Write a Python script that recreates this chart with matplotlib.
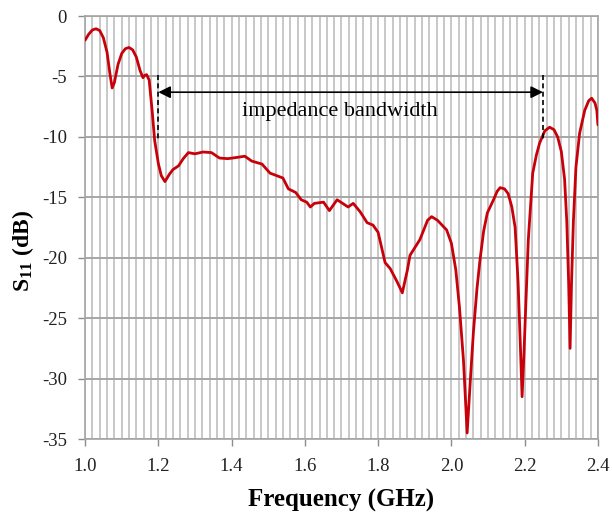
import matplotlib
matplotlib.use("Agg")
import matplotlib.pyplot as plt
from matplotlib.ticker import MultipleLocator

plt.rcParams['font.family'] = ['Liberation Serif', 'DejaVu Serif']
plt.rcParams['axes.unicode_minus'] = False
plt.rcParams['mathtext.fontset'] = 'custom'
plt.rcParams['mathtext.rm'] = 'Liberation Serif'
plt.rcParams['mathtext.bf'] = 'Liberation Serif:bold'

freq = [1.000, 1.010, 1.020, 1.030, 1.040, 1.050, 1.060, 1.068, 1.074, 1.080,
        1.090, 1.100, 1.110, 1.120, 1.130, 1.140, 1.150, 1.158, 1.163, 1.168,
        1.175, 1.183, 1.190, 1.200, 1.208, 1.218, 1.230, 1.240, 1.255, 1.268,
        1.282, 1.300, 1.322, 1.345, 1.367, 1.390, 1.414, 1.436, 1.455, 1.483,
        1.505, 1.540, 1.555, 1.575, 1.590, 1.605, 1.615, 1.626, 1.651, 1.667,
        1.688, 1.718, 1.732, 1.751, 1.770, 1.786, 1.800, 1.819, 1.833, 1.852,
        1.866, 1.880, 1.887, 1.914, 1.935, 1.946, 1.962, 1.987, 2.000, 2.012,
        2.022, 2.033, 2.043, 2.052, 2.060, 2.070, 2.078, 2.088, 2.098, 2.115,
        2.125, 2.133, 2.145, 2.155, 2.165, 2.174, 2.182, 2.188, 2.193, 2.198,
        2.203, 2.210, 2.222, 2.232, 2.241, 2.255, 2.268, 2.280, 2.290, 2.300,
        2.309, 2.315, 2.320, 2.324, 2.328, 2.333, 2.340, 2.350, 2.364, 2.375,
        2.383, 2.392, 2.397, 2.400]
s11 = [-2.0, -1.5, -1.15, -1.05, -1.2, -1.8, -3.0, -4.8, -5.95, -5.5,
       -4.0, -3.1, -2.7, -2.6, -2.8, -3.4, -4.5, -5.1, -4.9, -4.85,
       -5.3, -7.8, -10.3, -12.2, -13.2, -13.7, -13.1, -12.7, -12.4, -11.8,
       -11.3, -11.4, -11.25, -11.3, -11.75, -11.8, -11.7, -11.6, -12.0, -12.25,
       -13.0, -13.4, -14.3, -14.6, -15.2, -15.4, -15.8, -15.5, -15.4, -16.1,
       -15.2, -15.8, -15.5, -16.2, -17.1, -17.3, -17.9, -20.4, -20.9, -22.0,
       -22.9, -21.0, -19.8, -18.5, -16.9, -16.6, -16.9, -17.7, -18.8, -21.0,
       -24.1, -28.5, -34.5, -30.0, -26.2, -22.5, -20.2, -17.8, -16.3, -15.2,
       -14.5, -14.2, -14.3, -14.7, -15.8, -17.5, -22.0, -27.0, -31.5, -28.0,
       -24.0, -18.5, -13.0, -11.5, -10.5, -9.5, -9.2, -9.4, -10.0, -11.2,
       -13.5, -17.0, -22.0, -27.5, -22.0, -17.0, -12.5, -9.7, -7.8, -7.0,
       -6.8, -7.2, -7.8, -9.0]

xticks = [1.0, 1.2, 1.4, 1.6, 1.8, 2.0, 2.2, 2.4]
xticklabels = ["1.0", "1.2", "1.4", "1.6", "1.8", "2.0", "2.2", "2.4"]
yticks = [-35, -30, -25, -20, -15, -10, -5, 0]
yticklabels = ["-35", "-30", "-25", "-20", "-15", "-10", "-5", "0"]

band_lo, band_hi = 1.2, 2.25
arrow_y = -6.3
dash_top, dash_bot = -4.9, -10.3

fig = plt.figure(figsize=(6.12, 5.18), dpi=100)
ax = fig.add_axes([0.139, 0.1525, 0.838, 0.8165])

ax.set_xlim(1.0, 2.4)
ax.set_ylim(-35, 0)

ax.xaxis.set_minor_locator(MultipleLocator(0.02))
ax.grid(which='minor', axis='x', color='#c4c4c4', lw=1.3, zorder=0)
ax.grid(which='major', axis='x', color='#c4c4c4', lw=1.3, zorder=0)
ax.grid(which='major', axis='y', color='#a6a6a6', lw=1.4, zorder=0)
ax.set_axisbelow(True)

ax.set_xticks(xticks)
ax.set_xticklabels(xticklabels)
ax.set_yticks(yticks)
ax.set_yticklabels(yticklabels)
ax.tick_params(which='major', direction='out', length=5, width=1, color='#8c8c8c',
               labelsize=13.5, labelcolor='#222222')
ax.tick_params(axis='x', pad=9)
ax.tick_params(axis='y', pad=8)
ax.tick_params(which='minor', length=0)

for s in ['left', 'bottom', 'right', 'top']:
    ax.spines[s].set_color('#a6a6a6')
    ax.spines[s].set_linewidth(1.2)

ax.plot(freq, s11, color='#c8000a', lw=2.0, solid_joinstyle='round',
        solid_capstyle='round', zorder=3)

ax.plot([band_lo, band_lo], [dash_top, dash_bot], color='black', lw=1.2, ls=(0, (3, 2)), zorder=4)
ax.plot([band_hi, band_hi], [dash_top, dash_bot], color='black', lw=1.2, ls=(0, (3, 2)), zorder=4)
ax.annotate('', xy=(band_lo, arrow_y), xytext=(band_hi, arrow_y),
            arrowprops=dict(arrowstyle='<|-|>', color='black', lw=1.2,
                            mutation_scale=18, shrinkA=0, shrinkB=0), zorder=5)
ax.text((band_lo + band_hi) / 2 - 0.03, -7.9, 'impedance bandwidth', ha='center', va='center',
        fontsize=16)

ax.set_xlabel('Frequency (GHz)', fontsize=18, fontweight='bold', labelpad=10)
ax.set_ylabel(r'$\mathbf{S_{11}}$ (dB)', fontsize=17, fontweight='bold')
ax.yaxis.set_label_coords(-0.095, 0.445)

fig.savefig('out.png', dpi=100)
